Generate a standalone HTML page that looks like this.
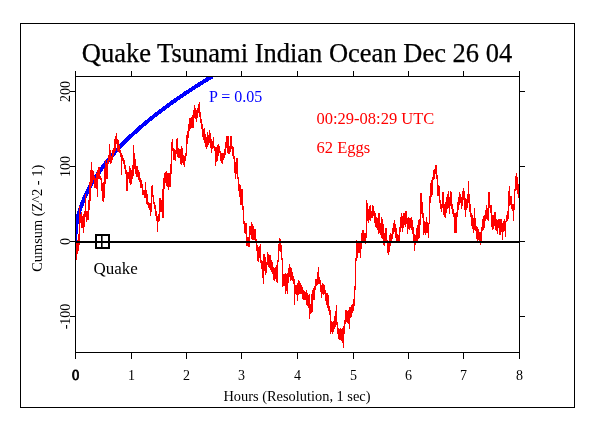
<!DOCTYPE html>
<html><head><meta charset="utf-8"><style>
html,body{margin:0;padding:0;background:#fff;}
svg{display:block;font-family:"Liberation Serif",serif;will-change:transform;}
</style></head><body>
<svg width="596" height="427" viewBox="0 0 596 427">
<rect x="20.5" y="23.5" width="554" height="384" fill="none" stroke="#000" stroke-width="1"/>
<text x="297" y="62" text-anchor="middle" font-size="26.5" stroke="#000" stroke-width="0.25">Quake Tsunami Indian Ocean Dec 26 04</text>
<g stroke="#000" stroke-width="1" shape-rendering="crispEdges">
<rect x="75.5" y="76.5" width="444" height="276" fill="none"/>
<line x1="75.5" y1="71" x2="75.5" y2="76"/><line x1="75.5" y1="352" x2="75.5" y2="359"/><line x1="131.5" y1="71" x2="131.5" y2="76"/><line x1="131.5" y1="352" x2="131.5" y2="359"/><line x1="186.5" y1="71" x2="186.5" y2="76"/><line x1="186.5" y1="352" x2="186.5" y2="359"/><line x1="241.5" y1="71" x2="241.5" y2="76"/><line x1="241.5" y1="352" x2="241.5" y2="359"/><line x1="297.5" y1="71" x2="297.5" y2="76"/><line x1="297.5" y1="352" x2="297.5" y2="359"/><line x1="353.5" y1="71" x2="353.5" y2="76"/><line x1="353.5" y1="352" x2="353.5" y2="359"/><line x1="408.5" y1="71" x2="408.5" y2="76"/><line x1="408.5" y1="352" x2="408.5" y2="359"/><line x1="463.5" y1="71" x2="463.5" y2="76"/><line x1="463.5" y1="352" x2="463.5" y2="359"/><line x1="519.5" y1="71" x2="519.5" y2="76"/><line x1="519.5" y1="352" x2="519.5" y2="359"/><line x1="70" y1="91.5" x2="75" y2="91.5"/><line x1="519" y1="91.5" x2="525" y2="91.5"/><line x1="70" y1="166.5" x2="75" y2="166.5"/><line x1="519" y1="166.5" x2="525" y2="166.5"/><line x1="70" y1="241.5" x2="75" y2="241.5"/><line x1="519" y1="241.5" x2="525" y2="241.5"/><line x1="70" y1="316.5" x2="75" y2="316.5"/><line x1="519" y1="316.5" x2="525" y2="316.5"/>
</g>
<g font-size="14" fill="#000"><text x="75.5" y="380" text-anchor="middle" stroke="#000" stroke-width="0.8" font-size="14.5">0</text><text x="131.5" y="380" text-anchor="middle">1</text><text x="186.5" y="380" text-anchor="middle">2</text><text x="241.5" y="380" text-anchor="middle">3</text><text x="297.5" y="380" text-anchor="middle">4</text><text x="353.5" y="380" text-anchor="middle">5</text><text x="408.5" y="380" text-anchor="middle">6</text><text x="463.5" y="380" text-anchor="middle">7</text><text x="519.5" y="380" text-anchor="middle">8</text></g>
<g font-size="14" fill="#000"><text transform="translate(70,91.5) rotate(-90)" text-anchor="middle">200</text><text transform="translate(70,166.5) rotate(-90)" text-anchor="middle">100</text><text transform="translate(70,241.5) rotate(-90)" text-anchor="middle">0</text><text transform="translate(70,316.5) rotate(-90)" text-anchor="middle">-100</text></g>
<text x="297" y="401" text-anchor="middle" font-size="14.4">Hours (Resolution, 1 sec)</text>
<text transform="translate(41.5,218.3) rotate(-90)" text-anchor="middle" font-size="14.4">Cumsum (Z^2 - 1)</text>
<defs><clipPath id="pc"><rect x="76" y="77" width="443" height="275"/></clipPath></defs>
<polyline clip-path="url(#pc)" points="75,241 76.0,226.9 77.0,221.1 78.0,216.7 79.0,212.9 80.0,209.6 81.0,206.6 82.0,203.8 83.0,201.3 84.0,198.8 85.0,196.6 86.0,194.4 87.0,192.3 88.0,190.3 89.0,188.4 90.0,186.6 91.0,184.8 92.0,183.1 93.0,181.4 94.0,179.7 95.0,178.2 96.0,176.6 97.0,175.1 98.0,173.6 99.0,172.2 100.0,170.7 101.0,169.3 102.0,168.0 103.0,166.6 104.0,165.3 105.0,164.0 106.0,162.8 107.0,161.5 108.0,160.3 109.0,159.1 110.0,157.9 111.0,156.7 112.0,155.5 113.0,154.4 114.0,153.2 115.0,152.1 116.0,151.0 117.0,149.9 118.0,148.9 119.0,147.8 120.0,146.7 121.0,145.7 122.0,144.7 123.0,143.6 124.0,142.6 125.0,141.6 126.0,140.6 127.0,139.7 128.0,138.7 129.0,137.7 130.0,136.8 131.0,135.8 132.0,134.9 133.0,134.0 134.0,133.1 135.0,132.2 136.0,131.2 137.0,130.4 138.0,129.5 139.0,128.6 140.0,127.7 141.0,126.8 142.0,126.0 143.0,125.1 144.0,124.3 145.0,123.4 146.0,122.6 147.0,121.8 148.0,120.9 149.0,120.1 150.0,119.3 151.0,118.5 152.0,117.7 153.0,116.9 154.0,116.1 155.0,115.3 156.0,114.5 157.0,113.8 158.0,113.0 159.0,112.2 160.0,111.4 161.0,110.7 162.0,109.9 163.0,109.2 164.0,108.4 165.0,107.7 166.0,106.9 167.0,106.2 168.0,105.5 169.0,104.8 170.0,104.0 171.0,103.3 172.0,102.6 173.0,101.9 174.0,101.2 175.0,100.5 176.0,99.8 177.0,99.1 178.0,98.4 179.0,97.7 180.0,97.0 181.0,96.3 182.0,95.6 183.0,95.0 184.0,94.3 185.0,93.6 186.0,92.9 187.0,92.3 188.0,91.6 189.0,91.0 190.0,90.3 191.0,89.7 192.0,89.0 193.0,88.4 194.0,87.7 195.0,87.1 196.0,86.4 197.0,85.8 198.0,85.2 199.0,84.5 200.0,83.9 201.0,83.3 202.0,82.6 203.0,82.0 204.0,81.4 205.0,80.8 206.0,80.2 207.0,79.6 208.0,78.9 209.0,78.3 210.0,77.7 211.0,77.1 212.0,76.5" fill="none" stroke="#0000ff" stroke-width="4" shape-rendering="crispEdges"/>
<path d="M76 242h1v18h-1zM77 240h1v14h-1zM78 234h1v17h-1zM79 206h1v39h-1zM80 214h1v9h-1zM81 212h1v16h-1zM82 216h1v12h-1zM83 214h1v19h-1zM84 211h1v16h-1zM85 194h1v23h-1zM86 211h1v11h-1zM87 211h1v9h-1zM88 200h1v20h-1zM89 182h1v28h-1zM90 170h1v31h-1zM91 162h1v24h-1zM92 170h1v13h-1zM93 171h1v9h-1zM94 176h1v12h-1zM95 178h1v10h-1zM96 173h1v16h-1zM97 170h1v27h-1zM98 167h1v12h-1zM99 167h1v12h-1zM100 176h1v4h-1zM101 178h1v13h-1zM102 183h1v18h-1zM103 182h1v20h-1zM104 168h1v30h-1zM105 160h1v24h-1zM106 163h1v16h-1zM107 160h1v19h-1zM108 155h1v9h-1zM109 144h1v17h-1zM110 150h1v14h-1zM111 156h1v7h-1zM112 150h1v10h-1zM113 148h1v8h-1zM114 139h1v14h-1zM115 136h1v15h-1zM116 133h1v11h-1zM117 139h1v12h-1zM118 140h1v12h-1zM119 145h1v8h-1zM120 150h1v7h-1zM121 153h1v22h-1zM122 155h1v6h-1zM123 158h1v6h-1zM124 160h1v9h-1zM125 165h1v9h-1zM126 170h1v21h-1zM127 172h1v19h-1zM128 172h1v7h-1zM129 166h1v17h-1zM130 168h1v17h-1zM131 170h1v14h-1zM132 165h1v14h-1zM133 145h1v31h-1zM134 153h1v16h-1zM135 159h1v15h-1zM136 166h1v11h-1zM137 166h1v11h-1zM138 170h1v10h-1zM139 172h1v10h-1zM140 178h1v10h-1zM141 180h1v8h-1zM142 184h1v11h-1zM143 190h1v5h-1zM144 190h1v8h-1zM145 182h1v16h-1zM146 190h1v14h-1zM147 194h1v11h-1zM148 202h1v6h-1zM149 203h1v7h-1zM150 203h1v13h-1zM151 186h1v26h-1zM152 185h1v12h-1zM153 195h1v9h-1zM154 202h1v7h-1zM155 205h1v11h-1zM156 211h1v10h-1zM157 216h1v16h-1zM158 214h1v8h-1zM159 198h1v23h-1zM160 198h1v14h-1zM161 200h1v12h-1zM162 189h1v29h-1zM163 178h1v40h-1zM164 173h1v16h-1zM165 172h1v11h-1zM166 171h1v15h-1zM167 173h1v14h-1zM168 173h1v17h-1zM169 173h1v14h-1zM170 164h1v23h-1zM171 142h1v32h-1zM172 139h1v12h-1zM173 148h1v12h-1zM174 149h1v11h-1zM175 150h1v11h-1zM176 139h1v15h-1zM177 138h1v19h-1zM178 148h1v10h-1zM179 149h1v9h-1zM180 149h1v15h-1zM181 146h1v19h-1zM182 148h1v15h-1zM183 155h1v10h-1zM184 156h1v11h-1zM185 153h1v8h-1zM186 135h1v21h-1zM187 131h1v13h-1zM188 124h1v14h-1zM189 118h1v13h-1zM190 118h1v11h-1zM191 117h1v11h-1zM192 115h1v13h-1zM193 110h1v18h-1zM194 105h1v13h-1zM195 108h1v11h-1zM196 110h1v12h-1zM197 108h1v10h-1zM198 104h1v9h-1zM199 102h1v15h-1zM200 112h1v11h-1zM201 119h1v10h-1zM202 124h1v13h-1zM203 129h1v11h-1zM204 128h1v15h-1zM205 134h1v13h-1zM206 137h1v12h-1zM207 132h1v15h-1zM208 135h1v10h-1zM209 130h1v13h-1zM210 133h1v15h-1zM211 139h1v14h-1zM212 141h1v8h-1zM213 137h1v11h-1zM214 146h1v5h-1zM215 147h1v19h-1zM216 147h1v15h-1zM217 145h1v16h-1zM218 144h1v12h-1zM219 146h1v7h-1zM220 151h1v10h-1zM221 153h1v10h-1zM222 153h1v11h-1zM223 153h1v7h-1zM224 149h1v9h-1zM225 142h1v13h-1zM226 136h1v12h-1zM227 136h1v17h-1zM228 136h1v18h-1zM229 146h1v8h-1zM230 136h1v16h-1zM231 136h1v13h-1zM232 146h1v10h-1zM233 147h1v12h-1zM234 156h1v17h-1zM235 162h1v17h-1zM236 158h1v16h-1zM237 158h1v21h-1zM238 177h1v14h-1zM239 184h1v13h-1zM240 185h1v20h-1zM241 189h1v16h-1zM242 189h1v21h-1zM243 206h1v18h-1zM244 221h1v12h-1zM245 223h1v11h-1zM246 223h1v23h-1zM247 237h1v9h-1zM248 237h1v10h-1zM249 226h1v21h-1zM250 226h1v9h-1zM251 222h1v17h-1zM252 224h1v16h-1zM253 226h1v14h-1zM254 229h1v11h-1zM255 229h1v12h-1zM256 239h1v12h-1zM257 245h1v16h-1zM258 247h1v15h-1zM259 246h1v12h-1zM260 244h1v19h-1zM261 260h1v9h-1zM262 261h1v17h-1zM263 254h1v30h-1zM264 254h1v17h-1zM265 257h1v18h-1zM266 262h1v11h-1zM267 252h1v13h-1zM268 254h1v13h-1zM269 255h1v13h-1zM270 255h1v15h-1zM271 260h1v12h-1zM272 262h1v12h-1zM273 267h1v13h-1zM274 268h1v13h-1zM275 267h1v12h-1zM276 265h1v17h-1zM277 260h1v23h-1zM278 244h1v18h-1zM279 238h1v13h-1zM280 239h1v13h-1zM281 245h1v15h-1zM282 258h1v29h-1zM283 274h1v12h-1zM284 274h1v12h-1zM285 273h1v21h-1zM286 274h1v17h-1zM287 273h1v21h-1zM288 268h1v15h-1zM289 264h1v13h-1zM290 267h1v14h-1zM291 268h1v12h-1zM292 272h1v9h-1zM293 276h1v8h-1zM294 279h1v26h-1zM295 285h1v9h-1zM296 285h1v10h-1zM297 283h1v18h-1zM298 280h1v15h-1zM299 281h1v13h-1zM300 283h1v11h-1zM301 285h1v9h-1zM302 287h1v12h-1zM303 290h1v10h-1zM304 291h1v9h-1zM305 292h1v8h-1zM306 290h1v15h-1zM307 293h1v13h-1zM308 295h1v13h-1zM309 294h1v25h-1zM310 304h1v10h-1zM311 294h1v19h-1zM312 290h1v22h-1zM313 288h1v12h-1zM314 286h1v14h-1zM315 279h1v11h-1zM316 279h1v7h-1zM317 272h1v13h-1zM318 267h1v17h-1zM319 277h1v7h-1zM320 280h1v12h-1zM321 285h1v13h-1zM322 283h1v11h-1zM323 284h1v11h-1zM324 285h1v9h-1zM325 290h1v11h-1zM326 293h1v12h-1zM327 293h1v15h-1zM328 295h1v16h-1zM329 306h1v9h-1zM330 310h1v24h-1zM331 321h1v11h-1zM332 322h1v12h-1zM333 321h1v11h-1zM334 316h1v13h-1zM335 311h1v16h-1zM336 305h1v20h-1zM337 322h1v12h-1zM338 328h1v11h-1zM339 329h1v11h-1zM340 328h1v12h-1zM341 329h1v12h-1zM342 328h1v15h-1zM343 326h1v22h-1zM344 320h1v14h-1zM345 310h1v14h-1zM346 310h1v12h-1zM347 311h1v12h-1zM348 310h1v14h-1zM349 307h1v22h-1zM350 307h1v11h-1zM351 305h1v12h-1zM352 304h1v9h-1zM353 299h1v12h-1zM354 286h1v20h-1zM355 258h1v32h-1zM356 240h1v21h-1zM357 241h1v17h-1zM358 241h1v12h-1zM359 241h1v12h-1zM360 242h1v16h-1zM361 233h1v16h-1zM362 230h1v11h-1zM363 230h1v11h-1zM364 233h1v9h-1zM365 233h1v11h-1zM366 200h1v38h-1zM367 203h1v18h-1zM368 209h1v14h-1zM369 206h1v14h-1zM370 205h1v16h-1zM371 211h1v7h-1zM372 205h1v13h-1zM373 206h1v10h-1zM374 211h1v12h-1zM375 213h1v14h-1zM376 217h1v11h-1zM377 218h1v12h-1zM378 213h1v21h-1zM379 213h1v20h-1zM380 223h1v12h-1zM381 217h1v21h-1zM382 219h1v20h-1zM383 224h1v21h-1zM384 233h1v13h-1zM385 228h1v14h-1zM386 228h1v14h-1zM387 240h1v13h-1zM388 242h1v13h-1zM389 235h1v17h-1zM390 233h1v13h-1zM391 234h1v7h-1zM392 228h1v11h-1zM393 223h1v11h-1zM394 220h1v12h-1zM395 224h1v14h-1zM396 228h1v13h-1zM397 234h1v7h-1zM398 235h1v7h-1zM399 227h1v14h-1zM400 217h1v15h-1zM401 213h1v15h-1zM402 216h1v16h-1zM403 213h1v15h-1zM404 213h1v12h-1zM405 211h1v16h-1zM406 211h1v13h-1zM407 218h1v16h-1zM408 217h1v12h-1zM409 218h1v12h-1zM410 218h1v10h-1zM411 217h1v13h-1zM412 220h1v14h-1zM413 227h1v15h-1zM414 234h1v17h-1zM415 235h1v10h-1zM416 228h1v14h-1zM417 225h1v16h-1zM418 220h1v19h-1zM419 219h1v19h-1zM420 193h1v32h-1zM421 193h1v21h-1zM422 202h1v16h-1zM423 213h1v22h-1zM424 221h1v12h-1zM425 222h1v13h-1zM426 217h1v16h-1zM427 222h1v11h-1zM428 223h1v15h-1zM429 196h1v28h-1zM430 183h1v20h-1zM431 180h1v17h-1zM432 177h1v18h-1zM433 170h1v10h-1zM434 169h1v10h-1zM435 165h1v9h-1zM436 165h1v14h-1zM437 175h1v21h-1zM438 185h1v11h-1zM439 186h1v17h-1zM440 200h1v9h-1zM441 204h1v8h-1zM442 192h1v16h-1zM443 192h1v23h-1zM444 204h1v13h-1zM445 202h1v16h-1zM446 197h1v16h-1zM447 194h1v15h-1zM448 191h1v17h-1zM449 197h1v17h-1zM450 191h1v15h-1zM451 192h1v17h-1zM452 204h1v10h-1zM453 209h1v8h-1zM454 213h1v20h-1zM455 213h1v20h-1zM456 212h1v21h-1zM457 202h1v15h-1zM458 197h1v13h-1zM459 192h1v13h-1zM460 194h1v9h-1zM461 197h1v12h-1zM462 191h1v15h-1zM463 188h1v12h-1zM464 191h1v19h-1zM465 198h1v19h-1zM466 199h1v11h-1zM467 194h1v14h-1zM468 181h1v22h-1zM469 194h1v18h-1zM470 204h1v13h-1zM471 213h1v13h-1zM472 215h1v14h-1zM473 218h1v15h-1zM474 208h1v22h-1zM475 218h1v13h-1zM476 226h1v13h-1zM477 227h1v14h-1zM478 229h1v11h-1zM479 232h1v10h-1zM480 232h1v13h-1zM481 227h1v14h-1zM482 219h1v12h-1zM483 216h1v14h-1zM484 215h1v13h-1zM485 210h1v11h-1zM486 205h1v14h-1zM487 208h1v12h-1zM488 192h1v29h-1zM489 192h1v16h-1zM490 205h1v8h-1zM491 205h1v22h-1zM492 215h1v15h-1zM493 215h1v14h-1zM494 212h1v14h-1zM495 212h1v18h-1zM496 219h1v12h-1zM497 220h1v14h-1zM498 219h1v9h-1zM499 219h1v16h-1zM500 219h1v16h-1zM501 219h1v13h-1zM502 223h1v17h-1zM503 221h1v11h-1zM504 219h1v12h-1zM505 221h1v16h-1zM506 215h1v7h-1zM507 211h1v10h-1zM508 191h1v28h-1zM509 186h1v20h-1zM510 196h1v9h-1zM511 196h1v13h-1zM512 204h1v7h-1zM513 204h1v17h-1zM514 189h1v21h-1zM515 176h1v15h-1zM516 173h1v17h-1zM517 177h1v17h-1zM518 184h1v14h-1z" fill="#ff0000" shape-rendering="crispEdges"/>
<rect x="75" y="241" width="444" height="2" fill="#000"/>
<rect x="96" y="235" width="13" height="13" fill="none" stroke="#000" stroke-width="2"/>
<rect x="101" y="235" width="1.6" height="13" fill="#000"/>
<text x="93.5" y="274" font-size="17">Quake</text>
<text x="209" y="101.5" font-size="16" fill="#0000ff">P = 0.05</text>
<text x="316.5" y="124" font-size="16.5" fill="#ff0000">00:29-08:29 UTC</text>
<text x="316.5" y="153" font-size="16.5" fill="#ff0000">62 Eggs</text>
</svg>
</body></html>
